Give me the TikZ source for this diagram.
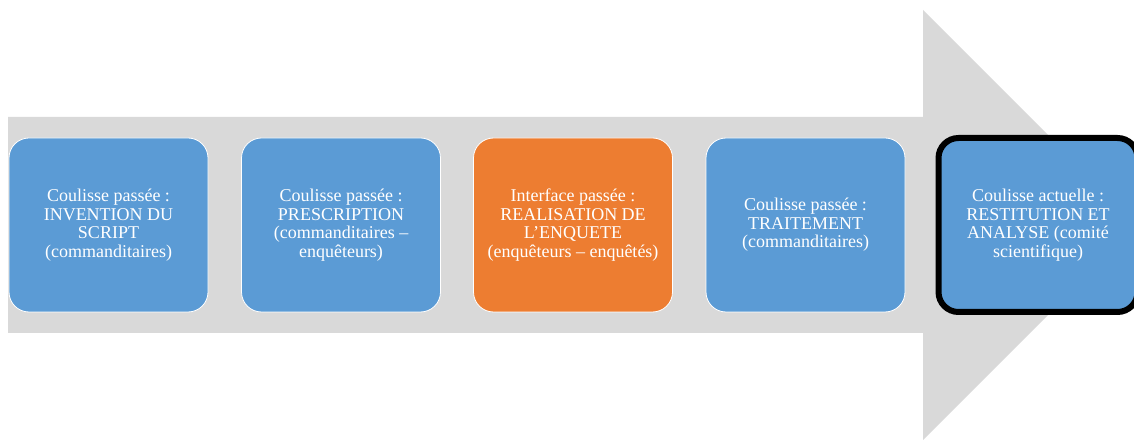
\documentclass[tikz,border=0pt]{standalone}
\usepackage{fontspec}
\setmainfont{Liberation Serif}
\usetikzlibrary{positioning}
\definecolor{stageblue}{HTML}{5B9BD5}
\definecolor{stageorange}{HTML}{ED7D31}
\definecolor{arrowgray}{HTML}{D9D9D9}

\begin{document}
\begin{tikzpicture}[x=1pt, y=1pt,
    stage/.style={draw=white, line width=0.8pt, fill=stageblue, rounded corners=20pt, minimum width=199pt, minimum height=174pt, inner sep=0pt, outer sep=0pt, text=white, align=center, font=\fontsize{18}{18.5}\selectfont},
    current/.style={stage, draw=black, line width=6pt}]
    \useasboundingbox (0,0) rectangle (1134,439);
    \clip (0,0) rectangle (1134,439);
    % big arrow behind the stages
    \fill[arrowgray] (8,106) -- (923,106) -- (923,-1) -- (1138,214) -- (923,429) -- (923,322) -- (8,322) -- cycle;

    \node[stage] (invention) at (108.5,214) {Coulisse passée :\\INVENTION DU\\SCRIPT\\(commanditaires)};
    \node[stage, right=33.5pt of invention] (prescription) {Coulisse passée :\\PRESCRIPTION\\(commanditaires --\\enquêteurs)};
    \node[stage, fill=stageorange, right=33pt of prescription] (realisation) {Interface passée :\\REALISATION DE\\L’ENQUETE\\(enquêteurs -- enquêtés)};
    \node[stage, right=33.5pt of realisation] (traitement) {Coulisse passée :\\TRAITEMENT\\(commanditaires)};
    \node[current, right=33.5pt of traitement] (restitution) {Coulisse actuelle :\\RESTITUTION ET\\ANALYSE (comité\\scientifique)};
\end{tikzpicture}
\end{document}
